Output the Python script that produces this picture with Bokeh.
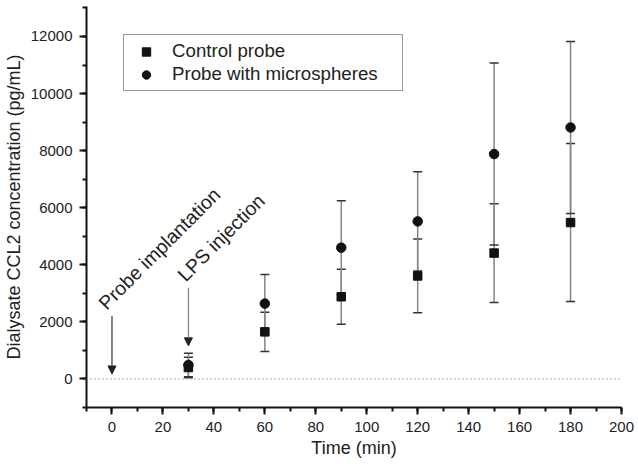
from bokeh.plotting import figure
from bokeh.models import (ColumnDataSource, Whisker, TeeHead, Arrow, NormalHead,
                          Span, Legend, LegendItem, FixedTicker, Range1d)
from bokeh.core.properties import value
from bokeh.embed import file_html
from bokeh.resources import INLINE

# ---- data ----
times = [30, 60, 90, 120, 150, 180]
control_mean = [400, 1650, 2880, 3610, 4410, 5480]
control_err = [360, 690, 960, 1290, 1730, 2770]
micro_mean = [490, 2640, 4600, 5520, 7880, 8810]
micro_err = [410, 1020, 1640, 1740, 3190, 3010]

x_ticks = [0, 20, 40, 60, 80, 100, 120, 140, 160, 180, 200]
y_ticks = [0, 2000, 4000, 6000, 8000, 10000, 12000]

event_times = [0, 30]
event_labels = ["Probe implantation", "LPS injection"]
arrow_start = [2210, 3200]
arrow_end = [175, 1160]

FONT = "Liberation Sans"

p = figure(width=638, height=464, output_backend="svg", toolbar_location=None,
           x_range=Range1d(-10, 200), y_range=Range1d(-1000, 13050),
           min_border_left=86, min_border_right=17, min_border_top=6,
           min_border_bottom=57)
p.outline_line_color = None
p.grid.visible = False
p.background_fill_color = "white"

for ax in (p.xaxis[0], p.yaxis[0]):
    ax.axis_line_width = 2
    ax.major_tick_line_width = 2
    ax.minor_tick_line_width = 2
    ax.major_tick_in = 0
    ax.major_tick_out = 7
    ax.minor_tick_in = 0
    ax.minor_tick_out = 4
    ax.major_label_text_font = FONT
    ax.major_label_text_font_size = "15px"
    ax.major_label_text_color = "#222222"
    ax.axis_label_text_font = FONT
    ax.axis_label_text_font_size = "18px"
    ax.axis_label_text_font_style = "normal"
    ax.axis_label_text_color = "#222222"
    ax.axis_line_color = "#111111"
    ax.major_tick_line_color = "#111111"
    ax.minor_tick_line_color = "#111111"

p.xaxis.ticker = FixedTicker(ticks=x_ticks, minor_ticks=list(range(-10, 201, 10)))
p.yaxis.ticker = FixedTicker(ticks=y_ticks, minor_ticks=list(range(-1000, 13001, 1000)))
p.xaxis.axis_label = "Time (min)"
p.yaxis.axis_label = "Dialysate CCL2 concentration (pg/mL)"
p.xaxis.major_label_standoff = 7
p.xaxis.axis_label_standoff = 3
p.yaxis.major_label_standoff = 7
p.yaxis.axis_label_standoff = 4

# zero line
p.add_layout(Span(location=0, dimension="width", line_color="#999999",
                  line_dash="1 3", line_width=1.5))

src_c = ColumnDataSource(dict(x=times, y=control_mean,
                              lo=[m - e for m, e in zip(control_mean, control_err)],
                              hi=[m + e for m, e in zip(control_mean, control_err)]))
src_m = ColumnDataSource(dict(x=times, y=micro_mean,
                              lo=[m - e for m, e in zip(micro_mean, micro_err)],
                              hi=[m + e for m, e in zip(micro_mean, micro_err)]))

for src in (src_c, src_m):
    w = Whisker(source=src, base="x", upper="hi", lower="lo",
                line_color="#858585", line_width=1.5,
                upper_head=TeeHead(size=9, line_color="#333333", line_width=1.5),
                lower_head=TeeHead(size=9, line_color="#333333", line_width=1.5))
    p.add_layout(w)

r_c = p.scatter("x", "y", source=src_c, marker="square", size=8.5,
                fill_color="#111111", line_color="#111111")
r_m = p.scatter("x", "y", source=src_m, marker="circle", size=9.5,
                fill_color="#111111", line_color="#111111")

# event arrows
arrow_colors = ["#444444", "#888888"]
for t, y0, y1, c in zip(event_times, arrow_start, arrow_end, arrow_colors):
    p.add_layout(Arrow(end=NormalHead(size=8, fill_color="#222222", line_color="#222222"),
                       x_start=t, y_start=y0, x_end=t, y_end=y1,
                       line_color=c, line_width=1.3))

label_dx = [-4.0, -3.0]
p.text(x=[t + d for t, d in zip(event_times, label_dx)],
       y=[s + 345 for s in arrow_start],
       text=event_labels, angle=45, angle_units="deg",
       text_font=value(FONT), text_font_size="19.5px", text_color="#222222",
       text_align="left", text_baseline="alphabetic")

legend = Legend(items=[LegendItem(label="Control probe", renderers=[r_c]),
                       LegendItem(label="Probe with microspheres", renderers=[r_m])],
                location=(37, 316))
legend.label_text_font = FONT
legend.label_text_font_size = "18.7px"
legend.label_text_color = "#222222"
legend.border_line_color = "#333333"
legend.border_line_width = 1.5
legend.padding = 5
legend.spacing = 1
legend.margin = 0
legend.glyph_width = 34
legend.glyph_height = 21
legend.label_height = 21
legend.label_width = 225
legend.label_standoff = 9
legend.background_fill_alpha = 1
p.add_layout(legend)

open("out.html", "w").write(file_html(p, INLINE))
